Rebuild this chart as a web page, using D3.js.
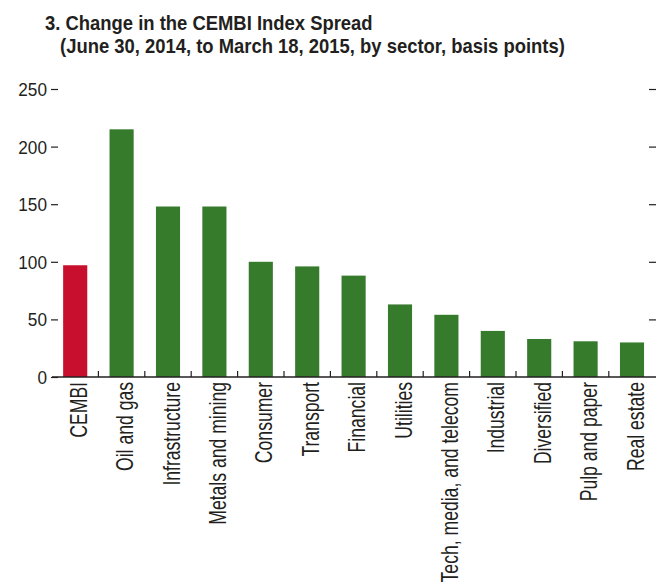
<!DOCTYPE html>
<html>
<head>
<meta charset="utf-8">
<script src="https://cdn.jsdelivr.net/npm/d3@7"></script>
<style>
  html, body { margin: 0; padding: 0; background: #fff; }
  svg { display: block; }
  text { font-family: "Liberation Sans", Arial, sans-serif; }
</style>
</head>
<body>
<svg id="chart" width="656" height="582"></svg>
<script>
const categories = ["CEMBI", "Oil and gas", "Infrastructure", "Metals and mining", "Consumer", "Transport", "Financial", "Utilities", "Tech, media, and telecom", "Industrial", "Diversified", "Pulp and paper", "Real estate"];
const values = [97, 215, 148, 148, 100, 96, 88, 63, 54, 40, 33, 31, 30];
const yTicks = [0, 50, 100, 150, 200, 250];
const titleLines = ["3. Change in the CEMBI Index Spread", "(June 30, 2014, to March 18, 2015, by sector, basis points)"];

const svg = d3.select("#chart");
const mLeft = 52, mRight = 655.2, mTop = 89, mBottom = 377;
const ink = "#231f20";

const x = d3.scaleBand().domain(categories).range([mLeft, mRight]).paddingInner(0.48).paddingOuter(0.24);
const xb = d3.scaleBand().domain(categories).range([mLeft, mRight]);
const y = d3.scaleLinear().domain([0, 250]).range([mBottom, mTop]);

// Title (condensed look via horizontal squeeze)
svg.append("text").attr("transform", "translate(45,30) scale(0.922,1)")
  .attr("font-size", 20).attr("font-weight", "bold").attr("fill", ink)
  .text(titleLines[0]);
svg.append("text").attr("transform", "translate(60,52.5) scale(0.922,1)")
  .attr("font-size", 20).attr("font-weight", "bold").attr("fill", ink)
  .text(titleLines[1]);

// Bars
svg.append("g").selectAll("rect").data(categories).join("rect")
  .attr("x", d => x(d))
  .attr("width", x.bandwidth())
  .attr("y", (d, i) => y(values[i]))
  .attr("height", (d, i) => y(0) - y(values[i]))
  .attr("fill", (d, i) => i === 0 ? "#c8102e" : "#367b2c");

// Left axis
const yAxisL = d3.axisLeft(y).tickValues(yTicks).tickSize(7).tickPadding(4);
const gL = svg.append("g").attr("transform", `translate(${mLeft + 6},0)`).call(yAxisL);
gL.select(".domain").remove();
gL.selectAll(".tick line").attr("stroke", ink).attr("stroke-width", 1.2);
gL.selectAll(".tick text")
  .attr("font-size", 18.5).attr("fill", ink)
  .attr("font-family", "'Liberation Sans', Arial, sans-serif")
  .attr("x", null).attr("dy", null)
  .attr("transform", "translate(-11,6.5) scale(0.93,1)");

// Right axis ticks
const yAxisR = d3.axisRight(y).tickValues(yTicks.filter(v => v > 0)).tickSize(7).tickFormat("");
const gR = svg.append("g").attr("transform", `translate(${649},0)`).call(yAxisR);
gR.select(".domain").remove();
gR.selectAll(".tick line").attr("stroke", ink).attr("stroke-width", 1.2);

// X axis baseline with ticks at band boundaries
const xAxis = d3.axisBottom(xb).tickSize(0).tickFormat("");
const gX = svg.append("g").attr("transform", `translate(0,${mBottom})`).call(xAxis);
gX.select(".domain").attr("d", `M${mLeft},0H656`).attr("stroke", ink).attr("stroke-width", 1.5);
gX.selectAll(".tick").remove();
gX.selectAll(".btick").data(categories.slice(1)).join("line")
  .attr("class", "btick")
  .attr("x1", d => xb(d)).attr("x2", d => xb(d))
  .attr("y1", 0).attr("y2", -6)
  .attr("stroke", ink).attr("stroke-width", 1.2);

// Category labels (rotated, condensed)
svg.append("g").selectAll("text").data(categories).join("text")
  .attr("transform", d => `translate(${x(d) + x.bandwidth() / 2 + 11.5},382) rotate(-90) scale(0.765,1)`)
  .attr("text-anchor", "end")
  .attr("font-size", 23)
  .attr("fill", ink)
  .text(d => d);
</script>
</body>
</html>
